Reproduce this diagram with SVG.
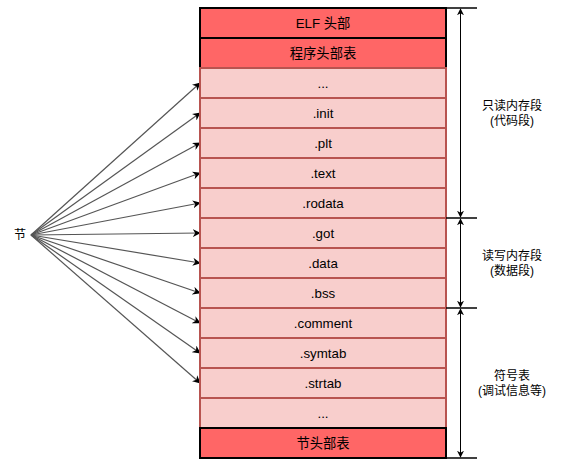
<svg xmlns="http://www.w3.org/2000/svg" width="571" height="465" viewBox="0 0 571 465">
<defs>
<style>
text{font-family:"Liberation Sans","Noto Sans CJK SC",sans-serif;font-size:12px;fill:#000;text-anchor:middle;dominant-baseline:central}
.box text{font-size:13.3px}
.hdr{fill:#FF6666;stroke:#000;stroke-width:2}
.sec{fill:#F8CECC;stroke:#B85450;stroke-width:2}
.conn{stroke:#555;stroke-width:1.2;fill:none;marker-end:url(#ah)}
.dim{stroke:#000;stroke-width:1;fill:none;marker-start:url(#ah2);marker-end:url(#ah2)}
.tick{stroke:#000;stroke-width:1.5}
</style>
<marker id="ah" viewBox="0 0 10 10" refX="9" refY="5" markerWidth="8" markerHeight="8" markerUnits="userSpaceOnUse" orient="auto"><path d="M0,0 L10,5 L0,10 L3,5 Z" fill="#000"/></marker>
<marker id="ah2" viewBox="0 0 10 10" refX="9" refY="5" markerWidth="7" markerHeight="7" markerUnits="userSpaceOnUse" orient="auto-start-reverse"><path d="M0,0 L10,5 L0,10 L3,5 Z" fill="#000"/></marker>
</defs>
<g id="connectors">
<line class="conn" x1="31" y1="235" x2="200" y2="83"/>
<line class="conn" x1="31" y1="235" x2="200" y2="113"/>
<line class="conn" x1="31" y1="235" x2="200" y2="143"/>
<line class="conn" x1="31" y1="235" x2="200" y2="173"/>
<line class="conn" x1="31" y1="235" x2="200" y2="203"/>
<line class="conn" x1="31" y1="235" x2="200" y2="233"/>
<line class="conn" x1="31" y1="235" x2="200" y2="263"/>
<line class="conn" x1="31" y1="235" x2="200" y2="293"/>
<line class="conn" x1="31" y1="235" x2="200" y2="323"/>
<line class="conn" x1="31" y1="235" x2="200" y2="353"/>
<line class="conn" x1="31" y1="235" x2="200" y2="383"/>
</g>
<g id="label-jie"><text x="20" y="235">节</text></g>
<g id="elf-header" class="box"><rect class="hdr" x="200" y="8" width="246" height="30"/><text x="323" y="23">ELF 头部</text></g>
<g id="program-header-table" class="box"><rect class="hdr" x="200" y="38" width="246" height="30"/><text x="323" y="53">程序头部表</text></g>
<g id="sec-dots1" class="box"><rect class="sec" x="200" y="68" width="246" height="30"/><text x="323" y="83">...</text></g>
<g id="sec-init" class="box"><rect class="sec" x="200" y="98" width="246" height="30"/><text x="323" y="113">.init</text></g>
<g id="sec-plt" class="box"><rect class="sec" x="200" y="128" width="246" height="30"/><text x="323" y="143">.plt</text></g>
<g id="sec-text" class="box"><rect class="sec" x="200" y="158" width="246" height="30"/><text x="323" y="173">.text</text></g>
<g id="sec-rodata" class="box"><rect class="sec" x="200" y="188" width="246" height="30"/><text x="323" y="203">.rodata</text></g>
<g id="sec-got" class="box"><rect class="sec" x="200" y="218" width="246" height="30"/><text x="323" y="233">.got</text></g>
<g id="sec-data" class="box"><rect class="sec" x="200" y="248" width="246" height="30"/><text x="323" y="263">.data</text></g>
<g id="sec-bss" class="box"><rect class="sec" x="200" y="278" width="246" height="30"/><text x="323" y="293">.bss</text></g>
<g id="sec-comment" class="box"><rect class="sec" x="200" y="308" width="246" height="30"/><text x="323" y="323">.comment</text></g>
<g id="sec-symtab" class="box"><rect class="sec" x="200" y="338" width="246" height="30"/><text x="323" y="353">.symtab</text></g>
<g id="sec-strtab" class="box"><rect class="sec" x="200" y="368" width="246" height="30"/><text x="323" y="383">.strtab</text></g>
<g id="sec-dots2" class="box"><rect class="sec" x="200" y="398" width="246" height="30"/><text x="323" y="413">...</text></g>
<g id="section-header-table" class="box"><rect class="hdr" x="200" y="428" width="246" height="30"/><text x="323" y="443">节头部表</text></g>
<g id="dimensions">
<line class="tick" x1="446" y1="8" x2="477" y2="8"/>
<line class="tick" x1="446" y1="218" x2="477" y2="218"/>
<line class="tick" x1="446" y1="308" x2="477" y2="308"/>
<line class="tick" x1="446" y1="458" x2="477" y2="458"/>
<line class="dim" x1="460.5" y1="9" x2="460.5" y2="217"/>
<line class="dim" x1="460.5" y1="219" x2="460.5" y2="307"/>
<line class="dim" x1="460.5" y1="309" x2="460.5" y2="457"/>
</g>
<g id="label-ro"><text x="512" y="106">只读内存段</text><text x="512" y="121">(代码段)</text></g>
<g id="label-rw"><text x="512" y="256">读写内存段</text><text x="512" y="271">(数据段)</text></g>
<g id="label-sym"><text x="512" y="376">符号表</text><text x="512" y="391">(调试信息等)</text></g>
</svg>
